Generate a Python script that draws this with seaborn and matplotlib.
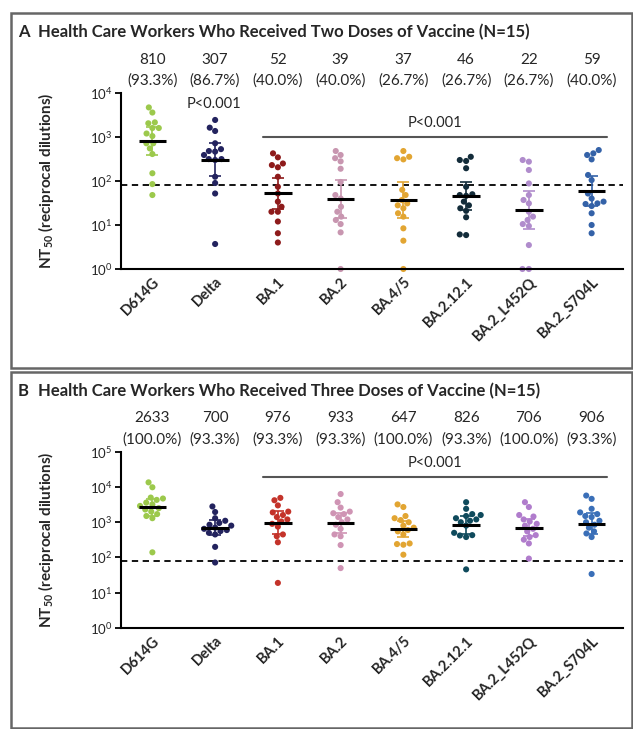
import numpy as np
import pandas as pd
import matplotlib
matplotlib.use("Agg")
import matplotlib.pyplot as plt
import seaborn as sns
from matplotlib.patches import Rectangle

# ---------------------------------------------------------------- data
variants = ["D614G", "Delta", "BA.1", "BA.2", "BA.4/5", "BA.2.12.1",
            "BA.2_L452Q", "BA.2_S704L"]

# NT50 per participant, two vaccine doses
two_d614g = [4700, 3600, 2150, 2050, 1600, 1600, 1200, 1050, 720, 720, 550, 410, 150, 85, 48]
two_delta = [2440, 1630, 1370, 720, 530, 480, 465, 390, 315, 315, 300, 125, 90, 52, 3.7]
two_ba1 = [425, 345, 250, 230, 205, 125, 74, 52, 34, 26, 20, 20, 12, 6.5, 4]
two_ba2 = [480, 390, 330, 280, 190, 95, 48, 40, 26, 20, 15.5, 13, 10.5, 6.8, 1]
two_ba45 = [480, 355, 330, 310, 63, 48, 37, 31, 28, 24, 18.5, 15.5, 8.4, 4.4, 1]
two_ba2121 = [355, 300, 285, 195, 74, 50, 48, 46, 34, 28, 24, 21, 15, 6.1, 5.9]
two_l452q = [300, 275, 178, 88, 48, 37, 31, 20, 15.5, 13, 10.5, 9.5, 3.5, 1, 1]
two_s704l = [505, 425, 390, 310, 137, 105, 52, 40, 34, 31, 30, 27, 18.5, 10, 6.5]

# NT50 per participant, three vaccine doses
three_d614g = [13500, 9800, 5000, 4700, 4300, 3600, 3200, 2900, 2500, 2300, 2000, 1700, 1500, 1300, 140]
three_delta = [2800, 1950, 1300, 1100, 950, 850, 800, 700, 650, 600, 560, 500, 450, 200, 72]
three_ba1 = [4900, 4200, 3000, 2000, 1900, 1600, 1400, 1200, 1050, 900, 750, 450, 400, 270, 19]
three_ba2 = [6300, 3700, 2600, 2000, 1800, 1700, 1400, 1200, 1000, 850, 650, 450, 400, 225, 50]
three_ba45 = [3200, 2700, 1500, 1300, 1150, 1000, 800, 700, 600, 550, 450, 250, 240, 230, 120]
three_ba2121 = [3700, 2400, 1700, 1600, 1500, 1300, 1200, 1100, 1000, 800, 500, 430, 420, 380, 46]
three_l452q = [3700, 2700, 1600, 1450, 1200, 1050, 900, 800, 650, 550, 430, 380, 320, 250, 93]
three_s704l = [5700, 4600, 2400, 1900, 1700, 1500, 1400, 1100, 1000, 850, 700, 550, 480, 380, 34]

# geometric mean titers and share of participants above the detection limit
gmt_two = [810, 307, 52, 39, 37, 46, 22, 59]
pct_two = [93.3, 86.7, 40.0, 40.0, 26.7, 26.7, 26.7, 40.0]
gmt_three = [2633, 700, 976, 933, 647, 826, 706, 906]
pct_three = [100.0, 93.3, 93.3, 93.3, 100.0, 93.3, 100.0, 93.3]
lod = 80

colors_two = ["#9cc94c", "#23235e", "#8e1b1b", "#c896b0", "#e2a532",
              "#132c3a", "#b08ccc", "#3462a8"]
colors_three = ["#9cc94c", "#23235e", "#c4332a", "#cf94b4", "#e2a532",
                "#0f4a5c", "#b07ccc", "#3a6fb8"]

# ---------------------------------------------------------------- style
sns.set_style("white")
plt.rcParams["font.family"] = ["Lato", "DejaVu Sans"]
plt.rcParams["mathtext.fontset"] = "custom"
plt.rcParams["mathtext.rm"] = "Lato"
plt.rcParams["mathtext.it"] = "Lato:italic"
plt.rcParams["mathtext.bf"] = "Lato:bold"

W, H = 633, 729
fig = plt.figure(figsize=(W / 100, H / 100), dpi=100)


def px_axes(left, top, right, bottom):
    return fig.add_axes([left / W, 1 - bottom / H, (right - left) / W, (bottom - top) / H])


def draw_panel(ax, series, gmt, pct, colors, top_exp, bar_exp, bar_text_exp, delta_text_exp):
    df = pd.DataFrame({
        "variant": np.repeat(variants, [len(s) for s in series]),
        "nt50": np.concatenate([np.asarray(s, float) for s in series]),
    })
    ax.set_yscale("log")
    ax.set_ylim(1, 10 ** top_exp)
    sns.swarmplot(data=df, x="variant", y="nt50", hue="variant", order=variants,
                  hue_order=variants, palette=colors, size=4.4, legend=False,
                  ax=ax, zorder=2)
    for coll in ax.collections:
        coll.set_clip_on(False)

    # 95% CI of the geometric mean around the reported value
    for i, (vals, g, c) in enumerate(zip(series, gmt, colors)):
        logs = np.log10(vals)
        half = 2.145 * logs.std(ddof=1) / np.sqrt(len(logs))
        lo, hi = g / 10 ** half, g * 10 ** half
        ax.errorbar(i, g, yerr=[[g - lo], [hi - g]], color=c, capsize=4,
                    capthick=1.2, lw=1.2, zorder=3)
        ax.hlines(g, i - 0.22, i + 0.22, color="black", lw=2.2, zorder=4)

    ax.axhline(lod, color="black", ls=(0, (3.5, 2.5)), lw=1.3, zorder=1)

    # significance bar over the Omicron sublineages
    ax.plot([1.77, 7.24], [10 ** bar_exp] * 2, color="#555555", lw=1.5,
            clip_on=False, zorder=1)
    ax.text(4.5, 10 ** bar_text_exp, "P<0.001", ha="center", va="center", fontsize=10.5)
    if delta_text_exp is not None:
        ax.text(0.98, 10 ** delta_text_exp, "P<0.001", ha="center", va="center", fontsize=10.5)

    # value and percentage rows above the plot
    tr = ax.get_xaxis_transform()
    for i, (g, p) in enumerate(zip(gmt, pct)):
        ax.text(i, 1.19, f"{g}", transform=tr, ha="center", va="center", fontsize=11)
        ax.text(i, 1.07, f"({p:.1f}%)", transform=tr, ha="center", va="center", fontsize=11)

    ax.set_xlim(-0.5, 7.5)
    ax.set_xlabel("")
    ax.set_ylabel(r"NT$_{\mathbf{50}}$ (reciprocal dilutions)", fontsize=11,
                  fontweight="bold")
    ax.yaxis.set_label_coords(-0.13, 0.5)
    exps = list(range(0, top_exp + 1))
    ax.set_yticks([10 ** e for e in exps])
    ax.set_yticklabels([rf"$10^{{{e}}}$" for e in exps], fontsize=9.5)
    ax.yaxis.set_minor_locator(matplotlib.ticker.NullLocator())
    ax.tick_params(axis="y", length=4, width=1.3, color="black", left=True, pad=2)
    ax.tick_params(axis="x", length=0, pad=4)
    ax.set_xticks(range(len(variants)))
    ax.set_xticklabels(variants, rotation=45, ha="right", rotation_mode="anchor",
                       fontsize=10.5, fontweight="bold")
    sns.despine(ax=ax)
    for side in ("left", "bottom"):
        ax.spines[side].set_linewidth(1.5)
        ax.spines[side].set_color("black")
    ax.grid(False)


ax_a = px_axes(121, 93, 623, 269)
draw_panel(ax_a,
           [two_d614g, two_delta, two_ba1, two_ba2, two_ba45, two_ba2121, two_l452q, two_s704l],
           gmt_two, pct_two, colors_two, 4, 3.0, 3.32, 3.75)

ax_b = px_axes(121, 451.7, 623, 628)
draw_panel(ax_b,
           [three_d614g, three_delta, three_ba1, three_ba2, three_ba45, three_ba2121,
            three_l452q, three_s704l],
           gmt_three, pct_three, colors_three, 5, 4.28, 4.67, None)

# panel frames and headings
for top, bottom in ((13, 368), (372, 728)):
    fig.patches.append(Rectangle((11 / W, 1 - bottom / H), (632 - 11) / W, (bottom - top) / H,
                                 transform=fig.transFigure, fill=False,
                                 edgecolor="#666666", lw=1.8))

for letter, title, y in (("A", "Health Care Workers Who Received Two Doses of Vaccine (N=15)", 32),
                         ("B", "Health Care Workers Who Received Three Doses of Vaccine (N=15)", 391)):
    fig.text(18 / W, 1 - y / H, letter, fontsize=12, fontweight="bold", va="center")
    fig.text(38 / W, 1 - y / H, title, fontsize=12, fontweight="bold", va="center")

fig.savefig("out.png", dpi=100)
